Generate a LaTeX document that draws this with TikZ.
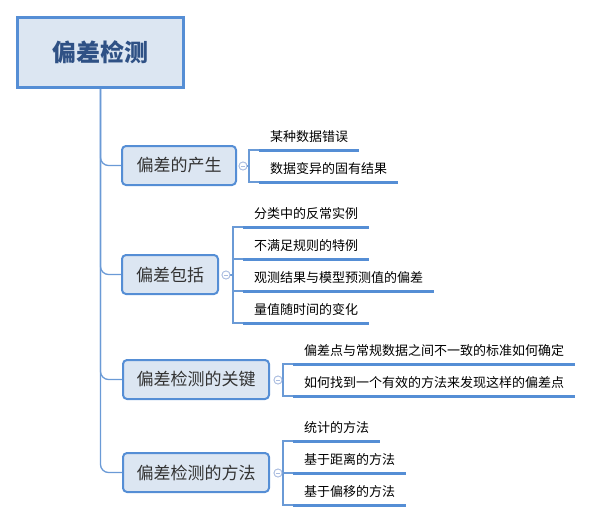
\documentclass[tikz,border=0pt]{standalone}
\usepackage{fontspec}
\newfontfamily\cjk{Noto Sans CJK SC}
\usetikzlibrary{calc}
\definecolor{bordblue}{HTML}{558ED5}
\definecolor{fillblue}{HTML}{DCE6F2}
\definecolor{roottext}{HTML}{2F5185}
\definecolor{linkblue}{HTML}{6A9AD6}
\definecolor{circ}{HTML}{A9BCE0}
\begin{document}
\begin{tikzpicture}[x=1pt,y=-1pt,
  rootbox/.style={draw=bordblue,line width=3pt,fill=fillblue,minimum width=166pt,minimum height=70pt,inner sep=0pt,
    font=\cjk\bfseries\fontsize{24pt}{28pt}\selectfont,text=roottext},
  branchbox/.style={draw=bordblue,line width=2pt,fill=fillblue,rounded corners=4pt,minimum height=39pt,inner sep=0pt,
    font=\cjk\fontsize{17pt}{20pt}\selectfont,text=black!80},
  leaf/.style={anchor=west,inner xsep=11pt,inner ysep=0pt,font=\cjk\fontsize{13pt}{15pt}\selectfont,text=black},
  uline/.style={draw=bordblue,line width=3pt},
  link/.style={draw=linkblue,line width=1.1pt},
  trunk/.style={draw=linkblue,line width=1.3pt,rounded corners=8pt},
  knob/.style={circle,draw=circ,fill=white,line width=0.8pt,minimum size=8pt,inner sep=0pt,
    path picture={\draw[circ,line width=0.8pt] ([xshift=-2.2pt]path picture bounding box.center) -- ([xshift=2.2pt]path picture bounding box.center);}}
]
\useasboundingbox (0,0) rectangle (594,522);

\node[rootbox] (root) at (100.5,52.5) {偏差检测};

\node[branchbox,minimum width=114pt] (b1) at (179,165.5) {偏差的产生};
\node[branchbox,minimum width=96pt] (b2) at (170,274.5) {偏差包括};
\node[branchbox,minimum width=146pt] (b3) at (196,379.5) {偏差检测的关键};
\node[branchbox,minimum width=146pt] (b4) at (196,472.5) {偏差检测的方法};

% trunk
\begin{scope}[on background layer/.try]
\end{scope}
\draw[trunk] (root.south) |- (b1.west);
\draw[trunk] (root.south) |- (b2.west);
\draw[trunk] (root.south) |- (b3.west);
\draw[trunk] (root.south) |- (b4.west);

% knobs
\node[knob] (c1) at (243,166) {};
\node[knob] (c2) at (226,275) {};
\node[knob] (c3) at (278,380) {};
\node[knob] (c4) at (278,473) {};

% leaves branch 1
\node[leaf] (l11) at (259,137) {某种数据错误};
\node[leaf] (l12) at (259,169) {数据变异的固有结果};
% branch 2
\node[leaf] (l21) at (243,214) {分类中的反常实例};
\node[leaf] (l22) at (243,246) {不满足规则的特例};
\node[leaf] (l23) at (243,278) {观测结果与模型预测值的偏差};
\node[leaf] (l24) at (243,310) {量值随时间的变化};
% branch 3
\node[leaf] (l31) at (293,351) {偏差点与常规数据之间不一致的标准如何确定};
\node[leaf] (l32) at (293,383) {如何找到一个有效的方法来发现这样的偏差点};
% branch 4
\node[leaf] (l41) at (293,428) {统计的方法};
\node[leaf] (l42) at (293,460) {基于距离的方法};
\node[leaf] (l43) at (293,492) {基于偏移的方法};

% underline coordinates
\foreach \n in {l11,l12,l21,l22,l23,l24,l31,l32,l41,l42,l43}{
  \coordinate (\n-s) at ([yshift=-13pt]\n.west);
  \coordinate (\n-e) at ([yshift=-13pt]\n.east);
}

% bracket points
\coordinate (k1) at (249,166);
\coordinate (k2) at (233,275);
\coordinate (k3) at (283,380);
\coordinate (k4) at (283,473);

% brackets
\draw[link] (c1) -- (k1);
\draw[link] (l11-s) -| (k1) |- (l12-s);
\draw[link] (c2) -- (k2);
\draw[link] (l21-s) -| (k2) |- (l24-s);
\draw[link] (k2) |- (l22-s);
\draw[link] (k2) |- (l23-s);
\draw[link] (c3) -- (k3);
\draw[link] (l31-s) -| (k3) |- (l32-s);
\draw[link] (c4) -- (k4);
\draw[link] (l41-s) -| (k4) |- (l43-s);
\draw[link] (k4) |- (l42-s);

% underlines
\foreach \n in {l11,l12,l21,l22,l23,l24,l31,l32,l41,l42,l43}{
  \draw[uline] (\n-s) -- (\n-e);
}

% redraw knobs on top
\node[knob] at (c1) {};
\node[knob] at (c2) {};
\node[knob] at (c3) {};
\node[knob] at (c4) {};
\end{tikzpicture}
\end{document}
